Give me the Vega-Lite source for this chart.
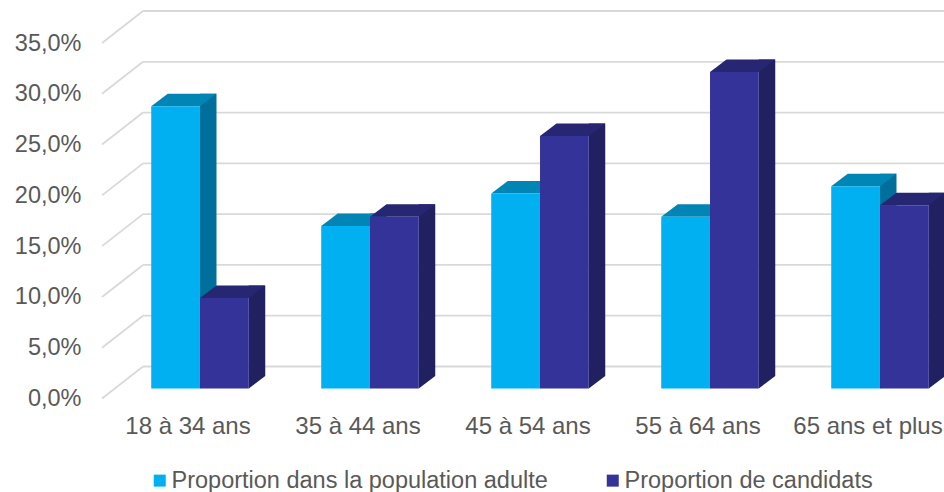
{"$schema":"https://vega.github.io/schema/vega-lite/v6.json","width":841,"height":355.5,"autosize":{"type":"none"},"padding":{"left":103,"top":33,"right":0,"bottom":103.5},"background":"white","config":{"view":{"stroke":null},"font":"Liberation Sans"},"datasets":{"rows":[
{"age":"18 à 34 ans","serie":"Proportion dans la population adulte","valeur":27.8},
{"age":"35 à 44 ans","serie":"Proportion dans la population adulte","valeur":16.0},
{"age":"45 à 54 ans","serie":"Proportion dans la population adulte","valeur":19.2},
{"age":"55 à 64 ans","serie":"Proportion dans la population adulte","valeur":16.9},
{"age":"65 ans et plus","serie":"Proportion dans la population adulte","valeur":19.9},
{"age":"18 à 34 ans","serie":"Proportion de candidats","valeur":8.9},
{"age":"35 à 44 ans","serie":"Proportion de candidats","valeur":16.9},
{"age":"45 à 54 ans","serie":"Proportion de candidats","valeur":24.85},
{"age":"55 à 64 ans","serie":"Proportion de candidats","valeur":31.15},
{"age":"65 ans et plus","serie":"Proportion de candidats","valeur":18.05}],
"grille":[{"g":0},{"g":5},{"g":10},{"g":15},{"g":20},{"g":25},{"g":30},{"g":35}]},
"data":{"name":"rows"},
"encoding":{
"x":{"field":"age","type":"nominal","sort":null,"scale":{"range":[12,862],"paddingInner":0,"paddingOuter":0},"axis":{"title":null,"domain":false,"ticks":false,"labelAngle":0,"labelOffset":-12,"labelPadding":26,"labelFontSize":24,"labelColor":"#595959","labelFont":"Liberation Sans","labelOverlap":false,"labelFlush":false}},
"y":{"field":"valeur","type":"quantitative","scale":{"domain":[0,35],"nice":false},"axis":{"title":null,"domain":false,"ticks":false,"grid":false,"values":[0,5,10,15,20,25,30,35],"labelExpr":"replace(format(datum.value,'.1f'),'.',',')+'%'","labelOffset":10,"labelPadding":22,"labelFontSize":23.5,"labelColor":"#595959","labelFont":"Liberation Sans"}}},
"layer":[
{"data":{"name":"grille"},"mark":{"type":"rule","color":"#d9d9d9","strokeWidth":1.8,"xOffset":40,"x2Offset":40,"yOffset":-22},"encoding":{"x":{"value":0},"x2":{"value":841},"y":{"field":"g","type":"quantitative"}}},
{"data":{"name":"grille"},"mark":{"type":"point","shape":"M-98,10L-57,-22","size":4,"filled":false,"opacity":1,"color":"#d9d9d9","strokeWidth":1.8},"encoding":{"x":{"datum":"18 à 34 ans"},"y":{"field":"g","type":"quantitative"}}},

{"transform":[{"filter":"datum.serie==='Proportion dans la population adulte'"}],"mark":{"type":"bar","width":16.5,"xOffset":8.25,"yOffset":-12.5,"y2Offset":-12.5,"color":"#006F9B"},"encoding":{"y2":{"datum":0}}},
{"transform":[{"filter":"datum.serie==='Proportion dans la population adulte'"}],"mark":{"type":"point","shape":"M0,0L0,-12.5L16.5,-12.5Z","size":4,"filled":true,"opacity":1,"color":"#006F9B","strokeWidth":0},"encoding":{"y":{"datum":0}}},
{"transform":[{"filter":"datum.serie==='Proportion dans la population adulte'"}],"mark":{"type":"point","shape":"M-48.75,0L-32.25,-12.5L16.5,-12.5L0,0Z","size":4,"filled":true,"opacity":1,"color":"#0085B4","strokeWidth":0}},
{"transform":[{"filter":"datum.serie==='Proportion dans la population adulte'"}],"mark":{"type":"bar","width":48.75,"xOffset":-24.4},"encoding":{"y2":{"datum":0},"color":{"field":"serie","type":"nominal","scale":{"domain":["Proportion dans la population adulte","Proportion de candidats"],"range":["#00B0F0","#333399"]},"legend":{"title":null,"orient":"none","legendX":45,"legendY":435.5,"direction":"horizontal","columns":2,"symbolType":"square","symbolSize":144,"symbolStrokeWidth":0,"labelFontSize":23.5,"labelColor":"#595959","labelFont":"Liberation Sans","labelOffset":0,"columnPadding":53,"labelLimit":500}}}},

{"transform":[{"filter":"datum.serie==='Proportion de candidats'"}],"mark":{"type":"bar","width":16.5,"xOffset":57,"yOffset":-12.5,"y2Offset":-12.5,"color":"#212161"},"encoding":{"y2":{"datum":0}}},
{"transform":[{"filter":"datum.serie==='Proportion de candidats'"}],"mark":{"type":"point","shape":"M48.75,0L48.75,-12.5L65.25,-12.5Z","size":4,"filled":true,"opacity":1,"color":"#212161","strokeWidth":0},"encoding":{"y":{"datum":0}}},
{"transform":[{"filter":"datum.serie==='Proportion de candidats'"}],"mark":{"type":"point","shape":"M0,0L16.5,-12.5L65.25,-12.5L48.75,0Z","size":4,"filled":true,"opacity":1,"color":"#262673","strokeWidth":0}},
{"transform":[{"filter":"datum.serie==='Proportion de candidats'"}],"mark":{"type":"bar","width":48.75,"xOffset":24.4},"encoding":{"y2":{"datum":0},"color":{"field":"serie","type":"nominal"}}}
]}
